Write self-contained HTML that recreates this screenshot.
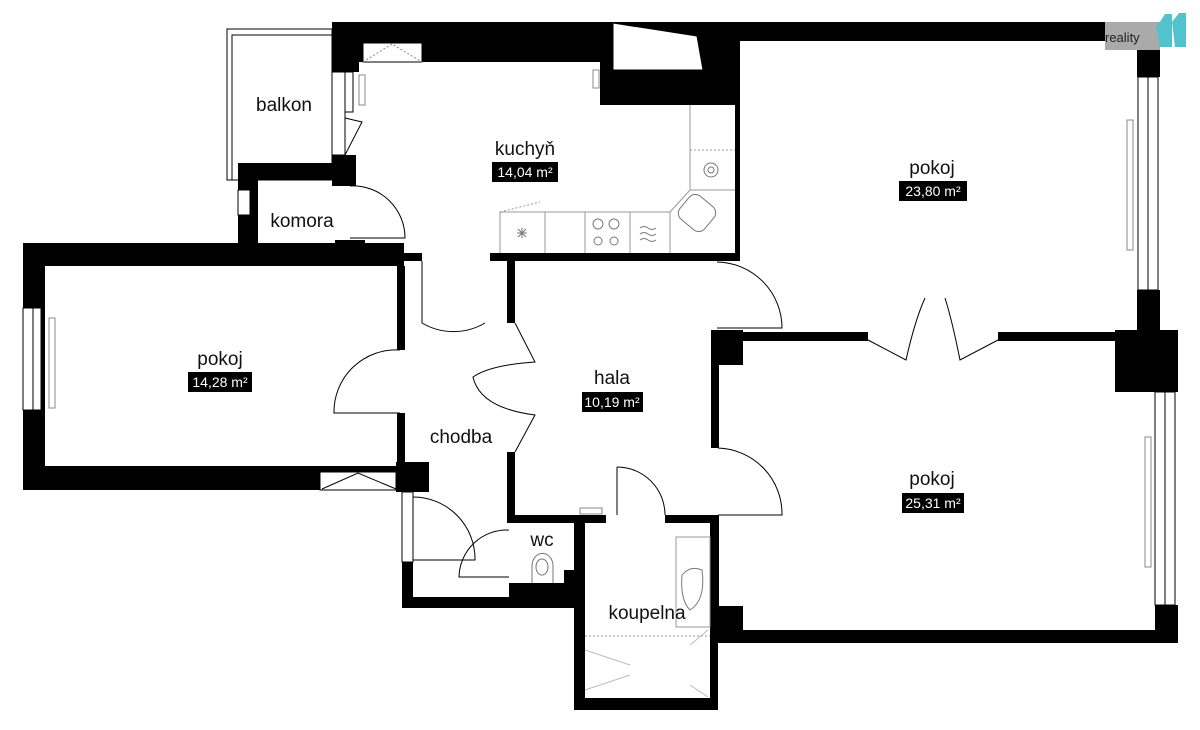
<!DOCTYPE html>
<html><head><meta charset="utf-8"><style>
html,body{margin:0;padding:0;background:#fff;}
svg{display:block;}
text{font-family:"Liberation Sans",sans-serif;}
</style></head><body>
<svg width="1200" height="730" viewBox="0 0 1200 730" xmlns="http://www.w3.org/2000/svg">
<g fill="#000">
<!-- top walls -->
<rect x="332" y="22" width="408" height="40"/>
<rect x="740" y="22" width="420" height="19"/>
<rect x="332" y="22" width="27" height="50"/>
<rect x="600" y="62" width="140" height="43"/>
<!-- kitchen left lower -->
<rect x="332" y="155" width="24" height="31"/>
<rect x="238" y="163" width="118" height="17"/>
<rect x="238" y="163" width="20" height="95"/>
<rect x="335" y="240" width="30" height="15"/>
<!-- left pokoj -->
<rect x="23" y="243" width="381" height="23"/>
<rect x="23" y="243" width="22" height="247"/>
<rect x="23" y="466" width="406" height="24"/>
<rect x="396" y="462" width="33" height="30"/>
<rect x="397" y="266" width="8" height="84"/>
<rect x="397" y="413" width="8" height="52"/>
<!-- kitchen bottom -->
<rect x="400" y="253" width="22" height="8"/>
<rect x="490" y="253" width="250" height="8"/>
<rect x="735" y="105" width="5" height="156"/>
<rect x="507" y="253" width="8" height="70"/>
<rect x="507" y="452" width="8" height="71"/>
<!-- chodba lower / wc -->
<rect x="402" y="562" width="11" height="46"/>
<rect x="402" y="597" width="172" height="11"/>
<rect x="507" y="515" width="99" height="8"/>
<rect x="665" y="515" width="53" height="8"/>
<rect x="509" y="583" width="65" height="25"/>
<rect x="564" y="570" width="10" height="15"/>
<rect x="574" y="515" width="11" height="195"/>
<rect x="710" y="515" width="8" height="195"/>
<rect x="574" y="698" width="144" height="12"/>
<!-- right rooms -->
<rect x="711" y="330" width="8" height="118"/>
<rect x="711" y="330" width="32" height="35"/>
<rect x="711" y="332" width="157" height="9"/>
<rect x="998" y="332" width="160" height="9"/>
<rect x="1137" y="41" width="23" height="36"/>
<rect x="1137" y="290" width="23" height="45"/>
<rect x="1115" y="330" width="63" height="62"/>
<rect x="1155" y="605" width="23" height="38"/>
<rect x="710" y="606" width="33" height="37"/>
<rect x="710" y="630" width="468" height="13"/>
<rect x="711" y="515" width="8" height="100"/>
</g>
<!-- white fills/windows -->
<g fill="#fff" stroke="#000" stroke-width="1">
<rect x="363" y="43" width="59" height="19"/>
<polygon points="613,23 697,36 703,70 613,70"/>
<rect x="332" y="72" width="13" height="83"/>
<rect x="345" y="72" width="8" height="40"/>
<rect x="238" y="190" width="12" height="25"/>
<rect x="23" y="308" width="10" height="102"/>
<rect x="33" y="308" width="8" height="102"/>
<rect x="320" y="472" width="76" height="18"/>
<rect x="1138" y="77" width="10" height="213"/>
<rect x="1148" y="77" width="10" height="213"/>
<rect x="1155" y="392" width="10" height="213"/>
<rect x="1165" y="392" width="10" height="213"/>
<rect x="402" y="492" width="11" height="70"/>
</g>
<g fill="none" stroke="#000" stroke-width="1">
<!-- balcony -->
<rect x="227" y="29" width="105" height="151"/>
<rect x="232" y="35" width="100" height="145"/>
<path d="M363 62 L392 44 L422 62" stroke-dasharray="2,2" stroke="#888"/>
<path d="M322 489 L358 473 L396 489"/>
<!-- doors -->
<path d="M350 186 A52 52 0 0 1 405 238 L350 238"/>
<path d="M422 261 L422 323 A62 62 0 0 0 485 323"/>
<path d="M400 350 A62 62 0 0 0 334 413 L400 413"/>
<path d="M515 323 L535 362 Q490 365 473 377 Q480 408 535 415 L515 452"/>
<path d="M717 262 A66 66 0 0 1 782 328 L717 328"/>
<path d="M718 448 A66 66 0 0 1 782 515 L718 515"/>
<path d="M617 467 A48 48 0 0 1 665 515 L665 515"/><path d="M617 467 L617 515"/>
<path d="M413 497 A62 62 0 0 1 475 560 L413 560"/>
<path d="M509 530 A48 48 0 0 0 459 577 L509 577"/>
<path d="M868 340 L906 360 Q915 320 925 298 L925 298"/>
<path d="M998 340 L960 360 Q952 320 945 298"/>
<path d="M345 118 L362 122 L345 155"/>
<!-- kitchen counters -->
<path d="M500 253 L500 212 L670 212 L690 190 L690 105 M545 212 L545 253 M585 212 L585 253 M630 212 L630 253 M670 212 L670 253 M690 190 L735 190" stroke="#999"/>
<path d="M690 150 L735 150" stroke="#999" stroke-dasharray="2,2"/>
<path d="M500 212 L540 202" stroke="#999" stroke-dasharray="2,2"/>
<rect x="681" y="198" width="32" height="30" rx="8" transform="rotate(40 697 213)" stroke="#777"/>
<circle cx="711" cy="170" r="7" stroke="#777"/><circle cx="711" cy="170" r="3" stroke="#777"/>
<circle cx="598" cy="224" r="5" stroke="#777"/><circle cx="614" cy="224" r="5" stroke="#777"/>
<circle cx="598" cy="241" r="4" stroke="#777"/><circle cx="614" cy="241" r="4" stroke="#777"/>
<path d="M640 228 q4 -3 8 0 q4 3 8 0 M640 234 q4 -3 8 0 q4 3 8 0 M640 240 q4 -3 8 0 q4 3 8 0" stroke="#777"/>
<path d="M517 233 l10 0 M522 228 l0 10 M518 229 l8 8 M526 229 l-8 8" stroke="#777"/>
<rect x="359" y="75" width="6" height="30" stroke="#888"/>
<rect x="593" y="70" width="6" height="18" stroke="#888"/>
<rect x="49" y="318" width="6" height="90" stroke="#888"/>
<rect x="1127" y="120" width="6" height="130" stroke="#888"/>
<rect x="1145" y="437" width="6" height="130" stroke="#888"/>
<rect x="580" y="508" width="22" height="6" stroke="#888"/>
<!-- wc / bath -->
<path d="M532 583 L532 566 A10 12 0 0 1 553 566 L553 583" stroke="#777"/>
<ellipse cx="542" cy="567" rx="6" ry="8" stroke="#777"/>
<rect x="676" y="537" width="34" height="90" stroke="#999"/>
<path d="M682 575 Q690 565 702 570 Q706 600 690 610 Q680 600 682 575" stroke="#777"/>
<path d="M585 636 L710 636" stroke="#999" stroke-dasharray="2,2"/>
<path d="M585 650 L630 665 M585 690 L630 675 M690 645 L708 630 M690 685 L708 697" stroke="#bbb"/>
</g>
<!-- logo -->
<rect x="1105" y="22" width="55" height="28" fill="#aaa"/>
<text x="1105" y="42" font-size="13" fill="#222">reality</text>
<path d="M1156 28 L1165 14 L1172 14 L1172 47 L1160 47 Z" fill="#52c3cc"/>
<path d="M1172 22 L1179 13 L1186 13 L1186 47 L1175 47 Z" fill="#52c3cc"/>
<!-- labels -->
<g font-size="19" fill="#111" text-anchor="middle">
<text x="284" y="111">balkon</text>
<text x="302" y="227">komora</text>
<text x="525" y="155">kuchyň</text>
<text x="932" y="174">pokoj</text>
<text x="220" y="365">pokoj</text>
<text x="612" y="384">hala</text>
<text x="461" y="443">chodba</text>
<text x="932" y="485">pokoj</text>
<text x="542" y="546">wc</text>
<text x="647" y="619">koupelna</text>
</g>
<g fill="#000">
<rect x="492" y="162" width="66" height="20"/>
<rect x="899" y="181" width="68" height="20"/>
<rect x="188" y="372" width="64" height="20"/>
<rect x="582" y="392" width="61" height="20"/>
<rect x="902" y="493" width="62" height="20"/>
</g>
<g font-size="14" fill="#fff" text-anchor="middle">
<text x="525" y="177">14,04 m²</text>
<text x="933" y="196">23,80 m²</text>
<text x="220" y="387">14,28 m²</text>
<text x="612" y="407">10,19 m²</text>
<text x="933" y="508">25,31 m²</text>
</g>
</svg>
</body></html>
